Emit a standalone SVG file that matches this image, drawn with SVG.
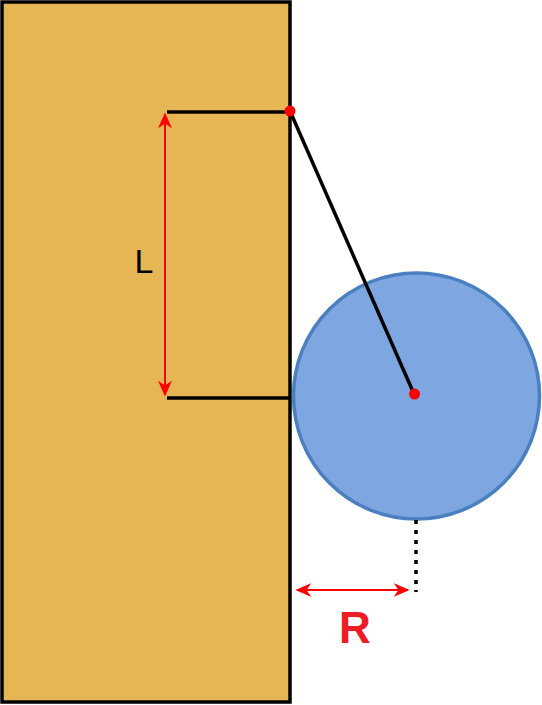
<svg xmlns="http://www.w3.org/2000/svg" width="542" height="705" viewBox="0 0 542 705">
<defs>
<marker id="ah" viewBox="0 0 10 10" refX="9" refY="5" markerWidth="16" markerHeight="14" orient="auto-start-reverse" markerUnits="userSpaceOnUse" preserveAspectRatio="none">
<path d="M0,0 L10,5 L0,10 L3,5 Z" fill="#ff0000"/>
</marker>
<style>
.blk{stroke:#000;stroke-width:3.5;fill:none}
.dim{stroke:#ff0000;stroke-width:2;fill:none}
</style>
</defs>
<g id="wall"><rect x="2" y="2" width="288" height="700" fill="#e6b655" stroke="#000" stroke-width="3.5"/></g>
<g id="ball"><circle cx="416.5" cy="396" r="123" fill="#7ea6e0" stroke="#4a7fc1" stroke-width="3.5"/></g>
<g id="connectors">
<line class="blk" x1="167" y1="112" x2="290" y2="112"/>
<line class="blk" x1="167" y1="398" x2="290" y2="398"/>
<line class="blk" x1="290" y1="111" x2="414" y2="394"/>
<line stroke="#000" stroke-width="3.5" stroke-dasharray="4,6" x1="416" y1="520" x2="416" y2="592"/>
<line class="dim" x1="165" y1="114" x2="165" y2="395" marker-start="url(#ah)" marker-end="url(#ah)"/>
<line class="dim" x1="297" y1="590" x2="408" y2="590" marker-start="url(#ah)" marker-end="url(#ah)"/>
</g>
<g id="pivot"><circle cx="290" cy="111" r="5.5" fill="#ff0000"/></g>
<g id="center"><circle cx="414.5" cy="394" r="5.5" fill="#ff0000"/></g>
<g id="labels">
<text x="144" y="273" font-family="Liberation Sans, Arial, sans-serif" font-size="34" text-anchor="middle" fill="#000">L</text>
<text x="355" y="643" font-family="Liberation Sans, Arial, sans-serif" font-size="44" font-weight="bold" text-anchor="middle" fill="#ee1c25">R</text>
</g>
</svg>
